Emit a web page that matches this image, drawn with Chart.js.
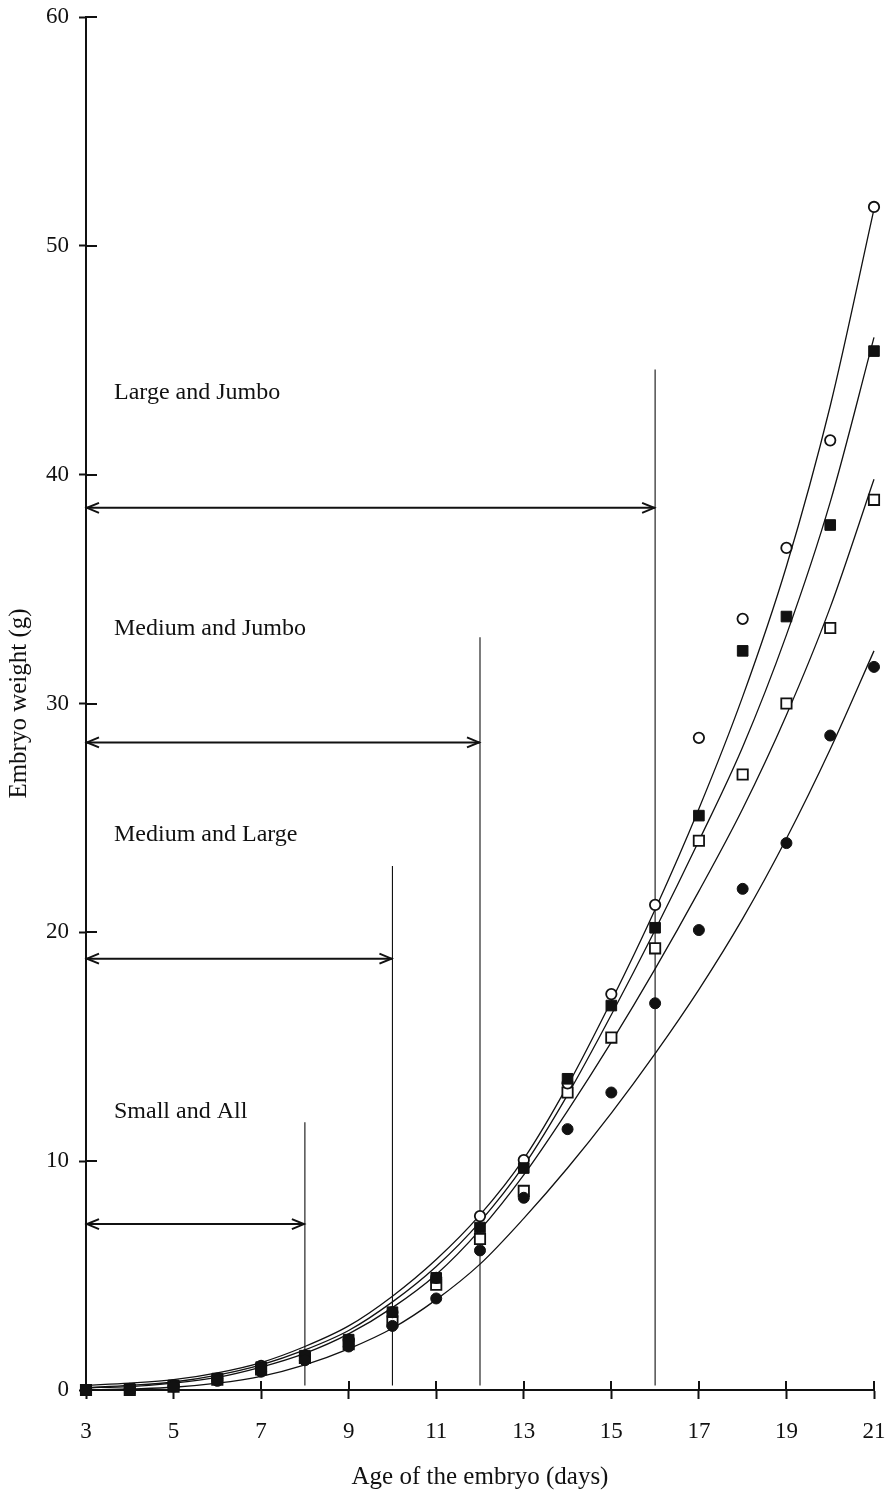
<!DOCTYPE html>
<html>
<head>
<meta charset="utf-8">
<script src="https://cdn.jsdelivr.net/npm/chart.js@4/dist/chart.umd.min.js"></script>
<style>
  html, body { margin: 0; padding: 0; background: #fff; }
  #wrap { width: 888px; height: 1502px; }
</style>
</head>
<body>
<div id="wrap"><canvas id="c" width="888" height="1502"></canvas></div>
<script>
// Embryo age (days) and mean embryo weight (g) per egg-size group
const days = [3, 4, 5, 6, 7, 8, 9, 10, 11, 12, 13, 14, 15, 16, 17, 18, 19, 20, 21];

const openCircle   = [0, 0.05, 0.2, 0.5, 1.05, 1.5, 2.2, 3.4, 4.9, 7.6, 10.05, 13.4, 17.3, 21.2, 28.5, 33.7, 36.8, 41.5, 51.7];
const filledSquare = [0, 0.05, 0.2, 0.5, 1.0, 1.5, 2.2, 3.4, 4.9, 7.1, 9.7, 13.6, 16.8, 20.2, 25.1, 32.3, 33.8, 37.8, 45.4];
const openSquare   = [0, 0.0, 0.15, 0.45, 0.9, 1.4, 2.0, 3.0, 4.6, 6.6, 8.7, 13.0, 15.4, 19.3, 24.0, 26.9, 30.0, 33.3, 38.9];
const filledCircle = [0, 0.0, 0.15, 0.4, 0.8, 1.3, 1.9, 2.8, 4.0, 6.1, 8.4, 11.4, 13.0, 16.9, 20.1, 21.9, 23.9, 28.6, 31.6];

// Fitted growth curves
const fitOpenCircle   = [0.2, 0.3, 0.45, 0.75, 1.2, 1.9, 2.8, 4.1, 5.7, 7.65, 10.1, 13.3, 17.0, 21.0, 25.4, 30.3, 36.0, 43.0, 51.6];
const fitFilledSquare = [0.1, 0.2, 0.35, 0.65, 1.1, 1.75, 2.6, 3.85, 5.4, 7.35, 9.8, 12.9, 16.4, 20.1, 24.0, 28.1, 33.0, 38.8, 46.0];
const fitOpenSquare   = [0.1, 0.15, 0.3, 0.55, 1.0, 1.6, 2.45, 3.6, 5.05, 7.0, 9.4, 12.2, 15.2, 18.4, 21.8, 25.4, 29.5, 34.2, 39.8];
const fitFilledCircle = [0.0, 0.05, 0.12, 0.3, 0.6, 1.1, 1.8, 2.7, 3.95, 5.5, 7.5, 9.7, 12.1, 14.7, 17.5, 20.6, 24.1, 28.0, 32.3];

// Axis ticks
const xTicks = [3, 5, 7, 9, 11, 13, 15, 17, 19, 21];
const yTicks = [0, 10, 20, 30, 40, 50, 60];

// Comparison windows: label, last day, marker-line height, arrow level, label level
const groupLabels  = ['Small and All', 'Medium and Large', 'Medium and Jumbo', 'Large and Jumbo'];
const groupEndDay  = [8, 10, 12, 16];
const groupLineTop = [11.7, 22.9, 32.9, 44.6];
const groupArrowY  = [7.25, 18.85, 28.3, 38.55];
const groupLabelY  = [11.9, 24.0, 33.0, 43.3];
const groupStartDay = 3;
const groupLabelDay = 3.64;

const SERIF = '"Liberation Serif", "Times New Roman", serif';
const INK = '#111';

const pts = (ys) => days.map((d, i) => ({ x: d, y: ys[i] }));

const markerSet = (label, ys, style, filled, r) => ({
  type: 'scatter', label, data: pts(ys), showLine: false, clip: false,
  pointStyle: style, pointRadius: r, pointHoverRadius: r,
  pointBackgroundColor: filled ? INK : '#fff',
  pointBorderColor: INK, pointBorderWidth: filled ? 1 : 1.8
});
const curveSet = (label, ys) => ({
  type: 'line', label, data: pts(ys), clip: false,
  borderColor: INK, borderWidth: 1.3, pointRadius: 0,
  cubicInterpolationMode: 'monotone', fill: false
});

// Earlier entries are painted last (on top)
const datasets = [
  markerSet('filled circle', filledCircle, 'circle', true, 5.5),
  markerSet('filled square', filledSquare, 'rect', true, 7.5),
  markerSet('open circle', openCircle, 'circle', false, 5.2),
  markerSet('open square', openSquare, 'rect', false, 7.3),
  curveSet('fit open circle', fitOpenCircle),
  curveSet('fit filled square', fitFilledSquare),
  curveSet('fit open square', fitOpenSquare),
  curveSet('fit filled circle', fitFilledCircle)
];

// Vertical boundary lines and arrow shafts for each window
groupEndDay.forEach((d, i) => {
  datasets.push({
    type: 'line', label: 'limit ' + groupLabels[i],
    data: [{ x: d, y: 0.2 }, { x: d, y: groupLineTop[i] }],
    borderColor: INK, borderWidth: 1.1, pointRadius: 0, clip: false
  });
  datasets.push({
    type: 'line', label: 'span ' + groupLabels[i],
    data: [{ x: groupStartDay, y: groupArrowY[i] }, { x: d, y: groupArrowY[i] }],
    borderColor: INK, borderWidth: 2, pointRadius: 0, clip: false
  });
});

// Ticks that cross the axis line: draw the inner half
const crossTicks = {
  id: 'crossTicks',
  afterDraw(chart) {
    const { ctx, chartArea: a, scales: { x, y } } = chart;
    ctx.save();
    ctx.strokeStyle = INK;
    ctx.lineWidth = 2;
    ctx.beginPath();
    x.ticks.forEach(t => {
      const px = Math.round(x.getPixelForValue(t.value));
      ctx.moveTo(px, a.bottom); ctx.lineTo(px, a.bottom - 9);
    });
    y.ticks.forEach(t => {
      const py = Math.round(y.getPixelForValue(t.value));
      ctx.moveTo(a.left, py); ctx.lineTo(a.left + 11, py);
    });
    ctx.stroke();
    ctx.restore();
  }
};

// Arrow heads and window labels
const windowNotes = {
  id: 'windowNotes',
  afterDatasetsDraw(chart) {
    const { ctx, scales: { x, y } } = chart;
    ctx.save();
    ctx.strokeStyle = INK;
    ctx.lineWidth = 2;
    groupEndDay.forEach((d, i) => {
      const x0 = x.getPixelForValue(groupStartDay);
      const x1 = x.getPixelForValue(d);
      const py = y.getPixelForValue(groupArrowY[i]);
      ctx.beginPath();
      ctx.moveTo(x0 + 13, py - 5); ctx.lineTo(x0 + 1, py); ctx.lineTo(x0 + 13, py + 5);
      ctx.moveTo(x1 - 13, py - 5); ctx.lineTo(x1 - 1, py); ctx.lineTo(x1 - 13, py + 5);
      ctx.stroke();
    });
    ctx.fillStyle = INK;
    ctx.font = '24px ' + SERIF;
    ctx.textAlign = 'left';
    ctx.textBaseline = 'alphabetic';
    groupLabels.forEach((t, i) => {
      ctx.fillText(t, x.getPixelForValue(groupLabelDay), y.getPixelForValue(groupLabelY[i]));
    });
    ctx.restore();
  }
};

// Keep the plot box fixed: ignore label overflow padding
const noOverflow = (s) => { s.paddingLeft = 0; s.paddingRight = 0; s.paddingTop = 0; s.paddingBottom = 0; };

new Chart(document.getElementById('c'), {
  data: { datasets },
  options: {
    responsive: false,
    animation: false,
    events: [],
    layout: { padding: { top: 17, right: 14, left: 0, bottom: 0 } },
    plugins: { legend: { display: false }, tooltip: { enabled: false } },
    scales: {
      x: {
        type: 'linear', min: 3, max: 21,
        afterBuildTicks(s) { s.ticks = xTicks.map(v => ({ value: v })); },
        afterFit(s) { s.height = 112; noOverflow(s); },
        border: { display: true, color: INK, width: 2 },
        grid: { drawOnChartArea: false, drawTicks: true, tickLength: 9, tickColor: INK, tickWidth: 2 },
        ticks: { color: INK, font: { family: SERIF, size: 23 }, padding: 19, maxRotation: 0, autoSkip: false },
        title: { display: true, text: 'Age of the embryo (days)', color: INK,
                 font: { family: SERIF, size: 25 }, padding: { top: 0, bottom: 10 } }
      },
      y: {
        type: 'linear', min: 0, max: 60,
        afterBuildTicks(s) { s.ticks = yTicks.map(v => ({ value: v })); },
        afterFit(s) { s.width = 86; noOverflow(s); },
        border: { display: true, color: INK, width: 2 },
        grid: { drawOnChartArea: false, drawTicks: true, tickLength: 7, tickColor: INK, tickWidth: 2 },
        ticks: { color: INK, font: { family: SERIF, size: 23 }, padding: 10, autoSkip: false },
        title: { display: true, text: 'Embryo weight (g)', color: INK,
                 font: { family: SERIF, size: 25 }, padding: { top: 4, bottom: 0 } }
      }
    }
  },
  plugins: [crossTicks, windowNotes]
});
</script>
</body>
</html>
